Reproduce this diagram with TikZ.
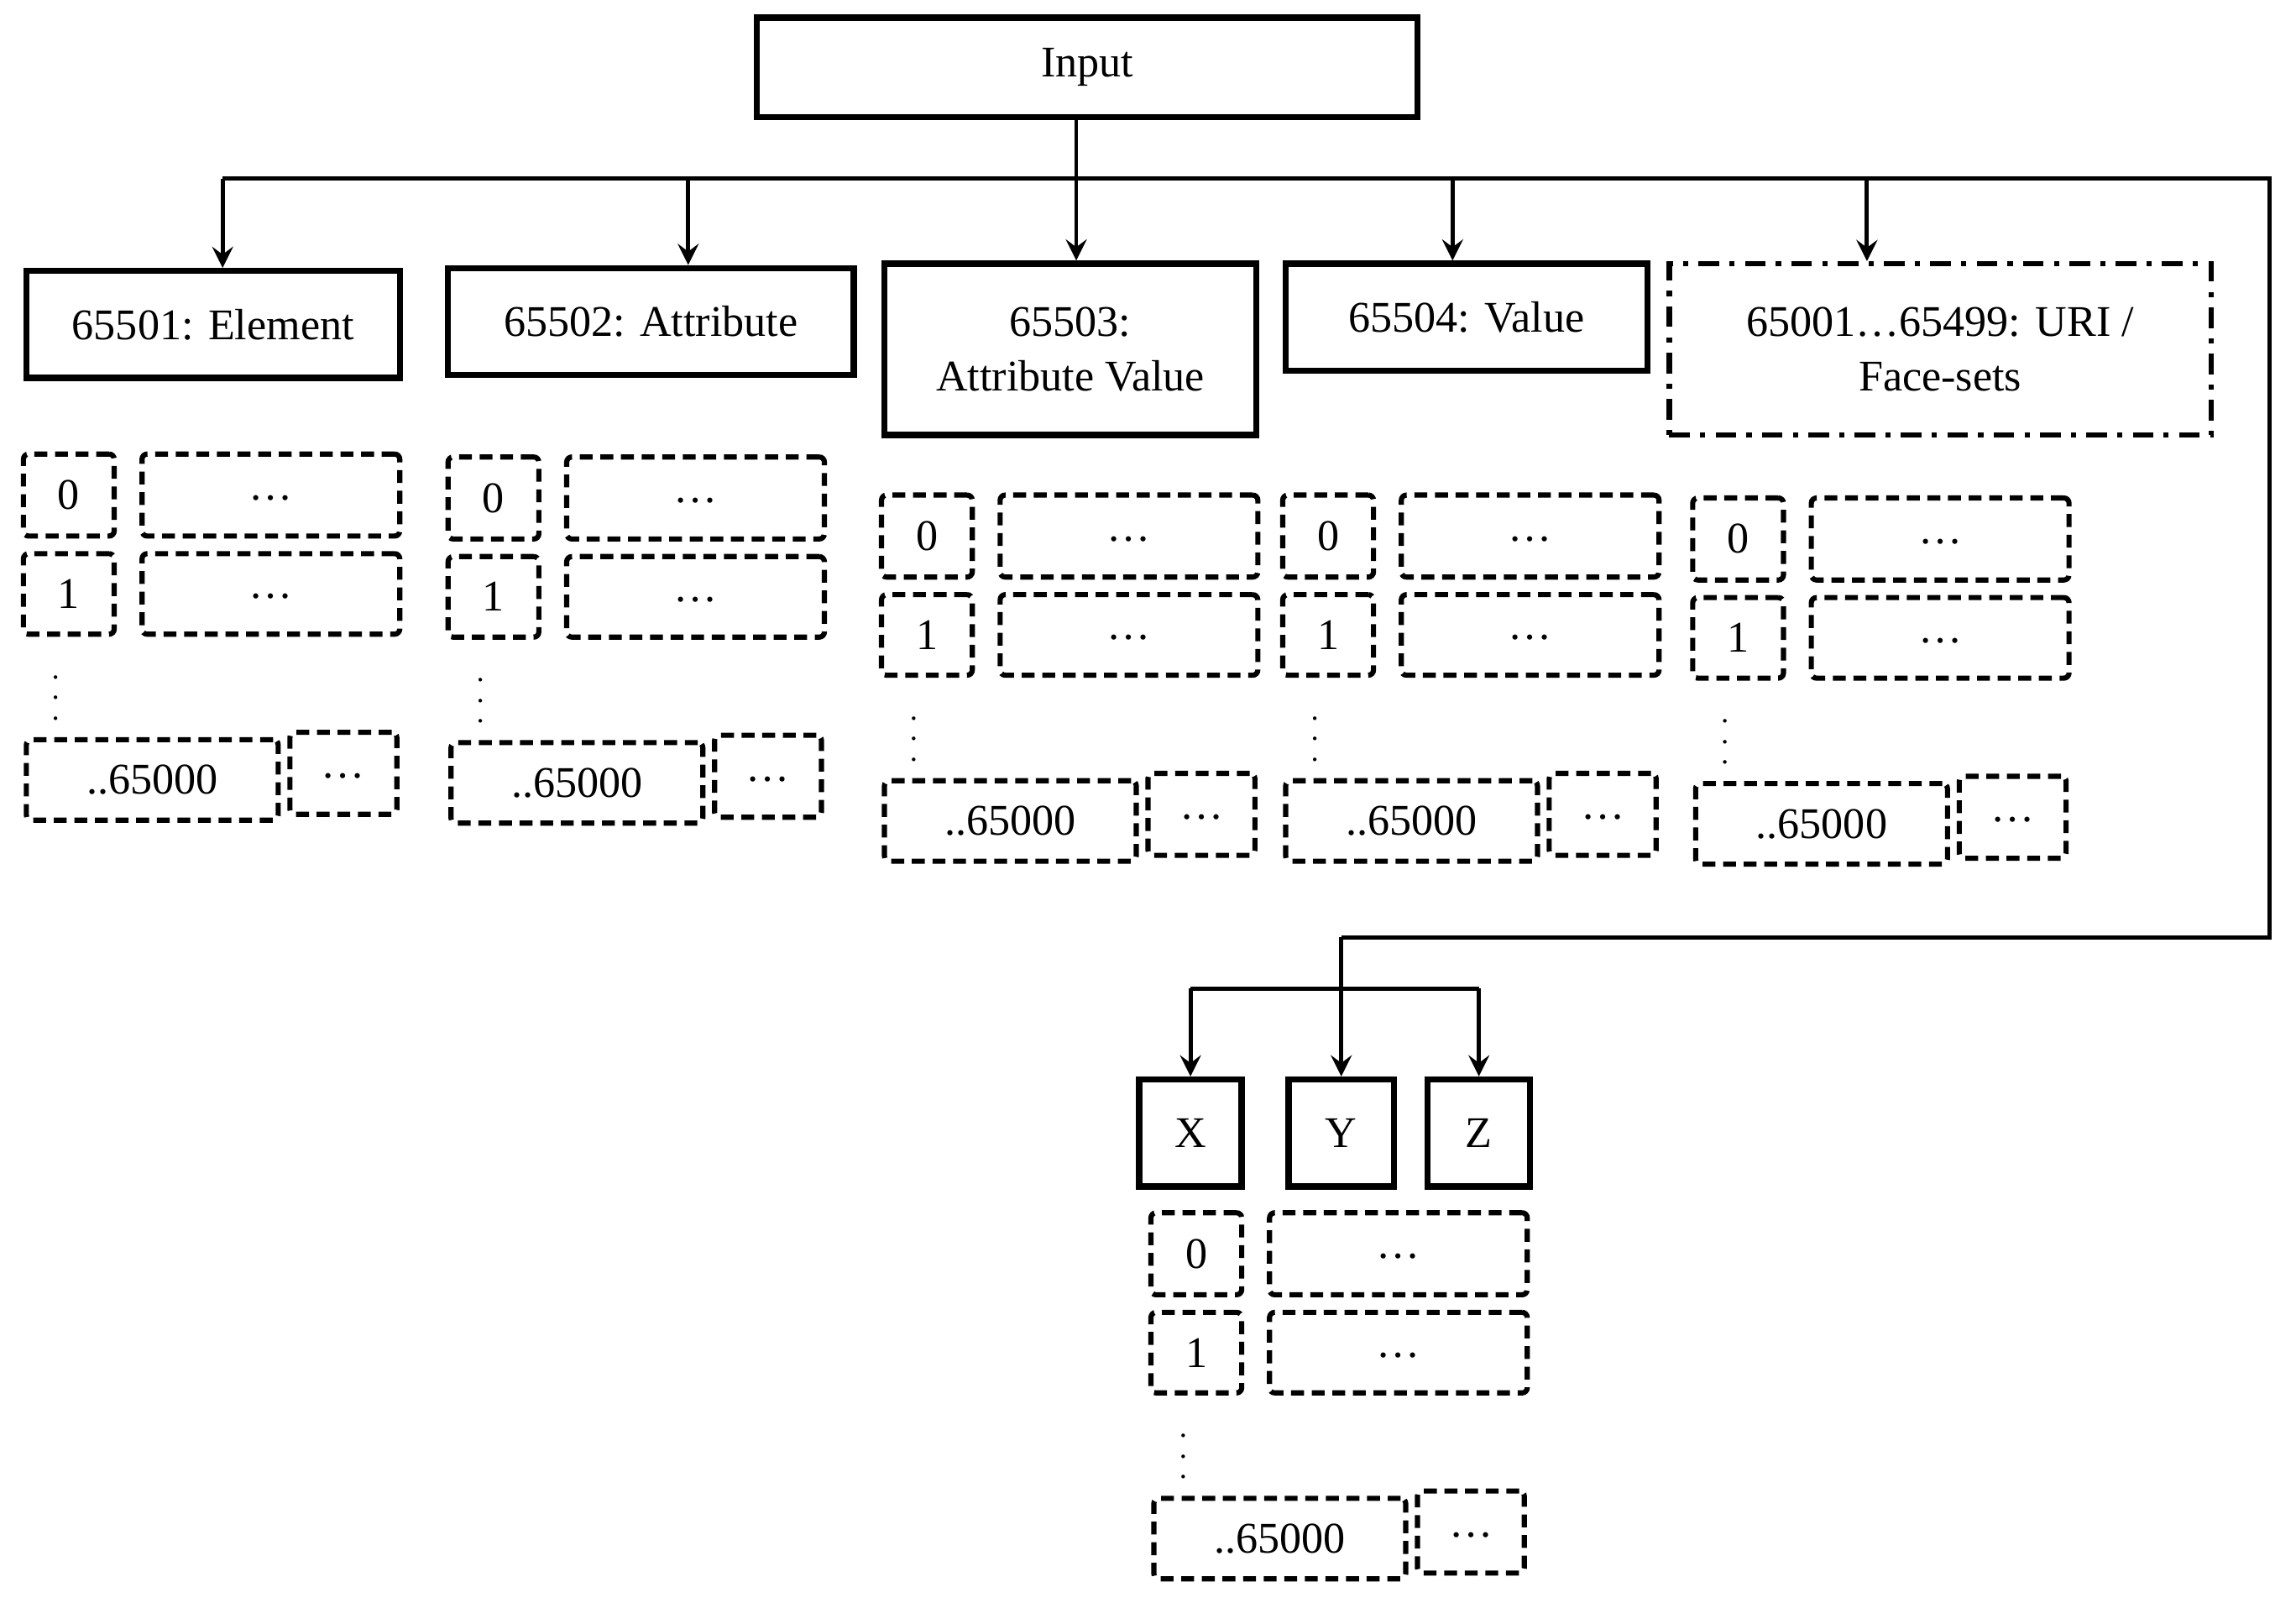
\documentclass[tikz,border=0pt]{standalone}
\usepackage{fontspec}
\setmainfont{Liberation Serif}
\begin{document}
\newcommand\bx[7]{\node[#7, minimum width={((#4)-(#2))*0.01cm}, minimum height={((#5)-(#3))*0.01cm}] (#1) at ({((#2)+(#4))/2},{((#3)+(#5))/2}) {#6};}
\newcommand\dts{\raisebox{-0.5ex}{\ldots}}
\newcommand\grp[3]{%
\bx{#1a}{#2}{#3}{#2+62}{#3+56}{0}{sb}
\bx{#1b}{#2+81}{#3}{#2+257}{#3+56}{\dts}{sb}
\bx{#1c}{#2}{#3+68}{#2+62}{#3+123}{1}{sb}
\bx{#1d}{#2+81}{#3+68}{#2+257}{#3+123}{\dts}{sb}
\node[font=\fontsize{6}{6}\selectfont,inner sep=0] (#1v) at (#2+22,#3+156) {$\vdots$};
\bx{#1e}{#2+2}{#3+195}{#2+174}{#3+250}{..65000}{sb}
\bx{#1f}{#2+182}{#3+190}{#2+255}{#3+246}{\dts}{sb}}
\begin{tikzpicture}[x=0.01cm,y=-0.01cm,font=\fontsize{8.5}{10.5}\selectfont,
 mb/.style={draw,line width=1.2pt,inner sep=0,align=center},
 sb/.style={draw,line width=1pt,dash pattern=on 2.5pt off 1.5pt,rounded corners=1pt,inner sep=0},
 ub/.style={draw,line width=1pt,dash pattern=on 4pt off 2pt on 1pt off 2pt,inner sep=0,align=center},
 arr/.style={->,>=stealth,line width=0.8pt},
 ln/.style={line width=0.8pt}]
\useasboundingbox (0,0) rectangle (1568,1094);
\bx{in}{517}{12}{968}{80}{Input}{mb}
\bx{el}{18}{185}{273}{258}{65501: Element}{mb}
\bx{at}{306}{183}{583}{256}{65502: Attribute}{mb}
\bx{av}{604}{180}{858}{297}{65503:\\Attribute Value}{mb}
\bx{va}{878}{180}{1125}{253}{65504: Value}{mb}
\bx{ur}{1140}{180}{1510}{297}{65001\ldots65499: URI /\\Face-sets}{ub}
\bx{X}{778}{737}{848}{810}{X}{mb}
\bx{Y}{880}{737}{952}{810}{Y}{mb}
\bx{Z}{975}{737}{1045}{810}{Z}{mb}
\grp{g1}{16}{310}
\grp{g2}{306}{312}
\grp{g3}{602}{338}
\grp{g4}{876}{338}
\grp{g5}{1156}{340}
\grp{g6}{786}{828}
\coordinate (j) at (735,122);
\coordinate (r1) at (1550,122);
\coordinate (r2) at (1550,640);
\coordinate (b) at (900,675);
\coordinate (ta) at (735,80);
\draw[ln] (ta) -- (j);
\draw[ln] (152,122) -- (r1) -- (r2) -- (Y.north |- r2);
\foreach \n/\x in {el/152,at/470,av/735,va/992,ur/1275} \draw[arr] (\x,122) -- (\n.north -| \x,0);
\draw[arr] (Y.north |- r2) -- (Y.north);
\draw[ln] (X.north |- b) -- (Z.north |- b);
\draw[arr] (X.north |- b) -- (X.north);
\draw[arr] (Z.north |- b) -- (Z.north);
\end{tikzpicture}
\end{document}
